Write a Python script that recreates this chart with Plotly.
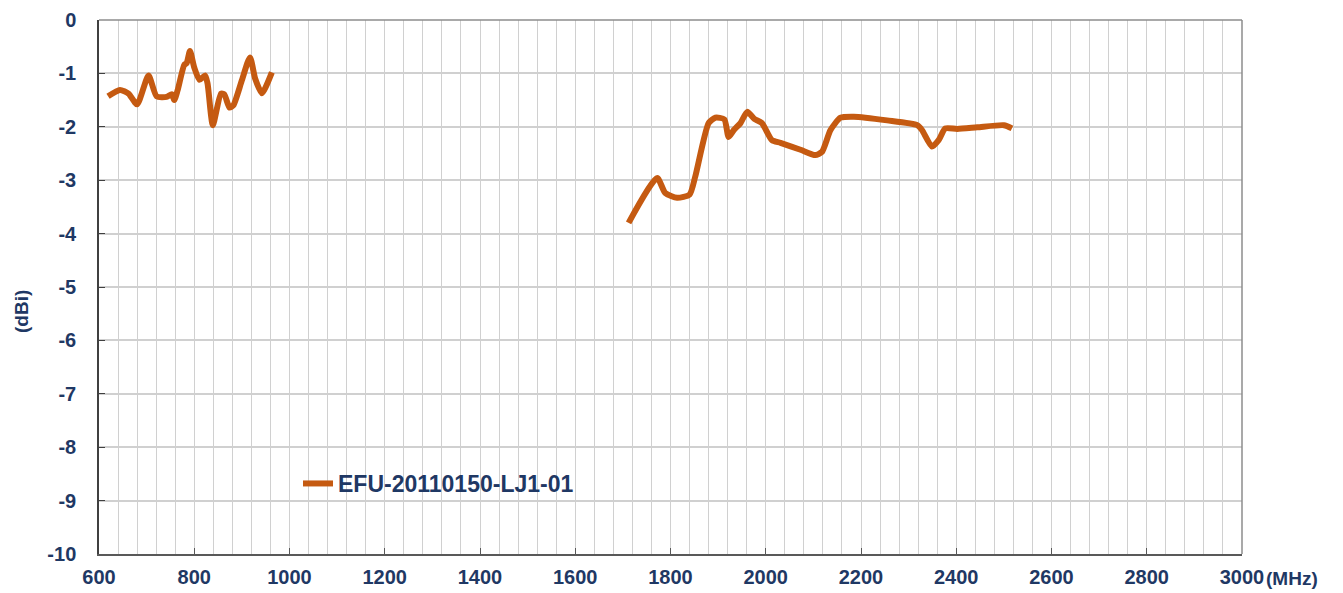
import plotly.graph_objects as go

# Low band (MHz, dBi)
low_freq = [619, 644, 662, 680, 704, 721, 742, 753, 758, 765, 779, 784, 791, 800, 811,
            823, 828, 839, 856, 863, 874, 882, 900, 917, 928, 942, 963]
low_gain = [-1.43, -1.31, -1.38, -1.58, -1.04, -1.43, -1.44, -1.39, -1.50, -1.32, -0.84,
            -0.81, -0.58, -0.89, -1.12, -1.04, -1.19, -1.97, -1.38, -1.39, -1.64, -1.60,
            -1.13, -0.70, -1.10, -1.37, -0.98]

# High band (MHz, dBi)
high_freq = [1712, 1772, 1789, 1814, 1840, 1852, 1880, 1894, 1913, 1922, 1933, 1947, 1961,
             1976, 1992, 2013, 2031, 2073, 2104, 2118, 2136, 2157, 2185, 2255, 2318, 2328,
             2349, 2363, 2377, 2402, 2444, 2500, 2517]
high_gain = [-3.80, -2.96, -3.24, -3.33, -3.27, -2.93, -1.93, -1.83, -1.86, -2.19, -2.06,
             -1.93, -1.72, -1.85, -1.93, -2.25, -2.30, -2.43, -2.53, -2.47, -2.06, -1.83,
             -1.81, -1.88, -1.97, -2.06, -2.37, -2.25, -2.03, -2.04, -2.01, -1.97, -2.03]

series_name = "EFU-20110150-LJ1-01"
x_ticks = list(range(600, 3001, 200))
y_ticks = list(range(-10, 1))
y_tick_text = [str(v) for v in y_ticks]  # hyphen-minus as in the reference

NAVY = "#1F3864"
LINE = "#C55A11"
FONT = "Liberation Sans, Arial, sans-serif"

# page body has an 8px margin, so the figure is drawn 8px smaller
W, H = 1335, 585
L, R, T, B = 91, 101, 12, 39
PW, PH = W - L - R, H - T - B

def px(xp):  # page x pixel -> paper x
    return (xp - 8 - L) / PW

def py(yp):  # page y pixel -> paper y
    return (H - B - (yp - 8)) / PH

fig = go.Figure()
fig.add_trace(go.Scatter(
    x=low_freq + [None] + high_freq,
    y=low_gain + [None] + high_gain,
    mode="lines",
    name=series_name,
    connectgaps=False,
    line=dict(color=LINE, width=6, shape="spline", smoothing=0.6),
))

fig.update_layout(
    width=W, height=H,
    margin=dict(l=L, r=R, t=T, b=B),
    paper_bgcolor="white", plot_bgcolor="white",
    font=dict(family=FONT, color=NAVY),
    showlegend=True,
    legend=dict(
        x=px(298), y=py(462), xanchor="left", yanchor="top",
        bgcolor="rgba(0,0,0,0)", borderwidth=0,
        font=dict(family=FONT, size=23, color=NAVY, weight="bold"),
        itemwidth=30, tracegroupgap=0,
    ),
    xaxis=dict(
        range=[600, 3000], tickvals=x_ticks, ticktext=[str(v) for v in x_ticks],
        automargin=False, ticklabeloverflow="allow",
        showgrid=True, gridcolor="#D0D0D0", gridwidth=1,
        minor=dict(dtick=40, tick0=600, showgrid=True, gridcolor="#D0D0D0", gridwidth=1, ticks=""),
        showline=True, linecolor="#595959", linewidth=1.5,
        ticks="inside", ticklen=6, tickcolor="#595959", tickwidth=1,
        tickfont=dict(family=FONT, size=20, color=NAVY, weight="bold"),
        ticklabelstandoff=4, zeroline=False,
    ),
    yaxis=dict(
        range=[-10, 0], tickvals=y_ticks, ticktext=y_tick_text,
        automargin=False, ticklabeloverflow="allow",
        showgrid=True, gridcolor="#D0D0D0", gridwidth=1.5,
        showline=True, linecolor="#404040", linewidth=1.5,
        ticks="inside", ticklen=6, tickcolor="#404040", tickwidth=1,
        tickfont=dict(family=FONT, size=20, color=NAVY, weight="bold"),
        ticklabelstandoff=17, zeroline=False,
    ),
    annotations=[
        dict(text="(dBi)", textangle=-90, xref="paper", yref="paper",
             x=px(21), y=py(312), xanchor="center", yanchor="middle", showarrow=False,
             font=dict(family=FONT, size=19, color=NAVY, weight="bold")),
        dict(text="(MHz)", xref="paper", yref="paper",
             x=px(1264), y=py(578), xanchor="left", yanchor="middle", showarrow=False,
             font=dict(family=FONT, size=19, color=NAVY, weight="bold")),
    ],
    shapes=[
        # white background patch behind the legend (covers gridlines)
        dict(type="rect", xref="paper", yref="paper", layer="below",
             x0=px(283), x1=px(598), y0=py(505), y1=py(463),
             fillcolor="white", line=dict(width=0)),
        dict(type="line", xref="paper", yref="paper", x0=0, x1=1, y0=1, y1=1,
             line=dict(color="#8C8C8C", width=1.5)),
        dict(type="line", xref="paper", yref="paper", x0=1, x1=1, y0=0, y1=1,
             line=dict(color="#8C8C8C", width=1.5)),
    ],
)

fig.write_html("out.html")
